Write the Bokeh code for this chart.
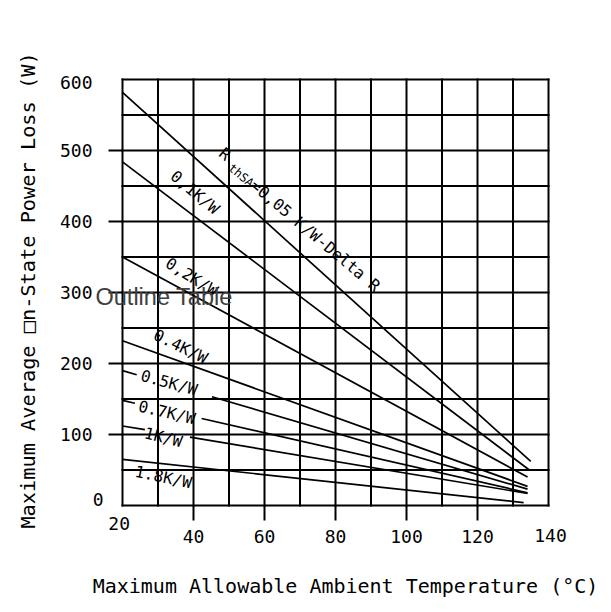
import numpy as np
from bokeh.plotting import figure
from bokeh.models import Label, FixedTicker, Range1d, LinearAxis
from bokeh.embed import file_html
from bokeh.resources import INLINE

# ---------------- data ----------------
x_start = 20.0
curve_names = ["0,05", "0,1", "0,2", "0.4", "0.5", "0.7", "1", "1.8"]   # RthSA in K/W
p_start = [582, 484, 350, 232, 190, 148, 112, 65]                         # W at 20 degC
x_end = [135.0, 134.6, 134.1, 134.1, 134.1, 134.1, 134.1, 133.0]          # degC
p_end = [62, 50, 40, 27, 23, 18, 17, 4]                                   # W at end
gap_from = [None, None, None, None, 24.0, 23.5, 26.3, None]               # label gaps (degC)
gap_to = [None, None, None, None, 45.2, 42.3, 39.0, None]

x_ticks = [20, 40, 60, 80, 100, 120, 140]
y_ticks = [0, 100, 200, 300, 400, 500, 600]
x_grid = list(range(20, 141, 10))
y_grid = list(range(0, 601, 50))

curve_label_texts = ["0,1K/W", "0,2K/W", "0.4K/W", "0.5K/W", "0.7K/W", "1K/W", "1.8K/W"]
x_title = "Maximum Allowable Ambient Temperature (\u00b0C)"
y_title = "Maximum Average \u25a1n-State Power Loss (W)"

# ---------------- layout ----------------
MONO = "DejaVu Sans Mono"
W = H = 605
BOX_L, BOX_R, BOX_T, BOX_B = 122, 548, 79, 505      # pixel box of the chart area
X0, X1 = x_ticks[0], x_ticks[-1]
Y0, Y1 = y_ticks[0], y_ticks[-1]
kx = (BOX_R - BOX_L) / (X1 - X0)
ky = (BOX_B - BOX_T) / (Y1 - Y0)

def dx(pix):
    return X0 + (pix - BOX_L) / kx

def dy(pix):
    return Y0 + (BOX_B - pix) / ky

p = figure(frame_width=W, frame_height=H,
           x_range=Range1d(dx(0), dx(W)), y_range=Range1d(dy(H), dy(0)),
           x_axis_location=None, y_axis_location=None,
           output_backend="svg", toolbar_location=None, min_border=0)
p.background_fill_color = "white"
p.border_fill_color = "white"
p.outline_line_color = None
p.xgrid.visible = False
p.ygrid.visible = False

# chart grid + frame
p.segment(x0=x_grid, y0=[Y0] * len(x_grid), x1=x_grid, y1=[Y1] * len(x_grid),
          line_color="black", line_width=2, line_cap="square")
p.segment(x0=[X0] * len(y_grid), y0=y_grid, x1=[X1] * len(y_grid), y1=y_grid,
          line_color="black", line_width=2, line_cap="square")

# axes fixed onto the frame edges
xax = LinearAxis(fixed_location=Y0, ticker=FixedTicker(ticks=x_ticks[1:-1]), bounds=(X0, X1))
yax = LinearAxis(fixed_location=X0, ticker=FixedTicker(ticks=y_ticks[1:-1]), bounds=(Y0, Y1))
for ax in (xax, yax):
    ax.axis_line_color = None
    ax.major_tick_in = 0
    ax.major_tick_line_color = "black"
    ax.major_tick_line_width = 2
    ax.minor_tick_line_color = None
    ax.major_label_text_font = MONO
    ax.major_label_text_font_size = "18px"
    ax.major_label_text_color = "black"
xax.major_tick_out = 15
yax.major_tick_out = 14
xax.major_label_standoff = 9
yax.major_label_standoff = 16
p.add_layout(xax, "below")
p.add_layout(yax, "left")

def text(t, x, y, size, align="center", baseline="middle", angle=0.0, font=MONO, color="black"):
    p.add_layout(Label(x=x, y=y, text=t, angle=np.deg2rad(angle),
                       text_align=align, text_baseline=baseline,
                       text_font=font, text_font_size=size, text_color=color))

# end tick labels (offset in the original drawing)
text(str(x_ticks[0]), dx(118.7), dy(523), "18px")
text(str(x_ticks[-1]), dx(550), dy(535), "18px")
text(str(y_ticks[0]), dx(103), dy(498.5), "18px", align="right")
text(str(y_ticks[-1]), dx(92), dy(82), "18px", align="right")

# axis titles
text(x_title, dx(345), dy(585.5), "20px")
text(y_title, dx(27), dy(290), "20.3px", angle=90)

# curves
xs, ys = [], []
for i in range(len(p_start)):
    xe = [x_start, x_end[i]]
    pe = [p_start[i], p_end[i]]
    if gap_from[i] is None:
        xs.append(xe)
        ys.append(pe)
    else:
        a = [x_start, gap_from[i]]
        b = [gap_to[i], x_end[i]]
        xs.append(a)
        ys.append(list(np.interp(a, xe, pe)))
        xs.append(b)
        ys.append(list(np.interp(b, xe, pe)))
p.multi_line(xs=xs, ys=ys, line_color="black", line_width=1.7)

# curve labels
lab_x = [40.4, 39.5, 36.4, 33.1, 32.5, 31.5, 31.5]
lab_y = [441, 322, 224, 173, 131, 96, 40]
lab_ang = [-40, -32, -26, -15, -13, -14, -12]
for t, lx, ly, la in zip(curve_label_texts, lab_x, lab_y, lab_ang):
    text(t, lx, ly, "16px", angle=la)

# R_thSA label
text("R", 48.9, 495, "16px", angle=-40)
text("thSA", 53.4, 465, "12px", angle=-40)
text("=" + curve_names[0] + " K/W-Delta R", 74.3, 380, "16px", angle=-40)

# overlay text
text("Outline Table", dx(95), dy(296.5), "23.5px", align="left", baseline="alphabetic",
     font="Liberation Sans", color="#404040")

open("out.html", "w").write(file_html(p, INLINE))
